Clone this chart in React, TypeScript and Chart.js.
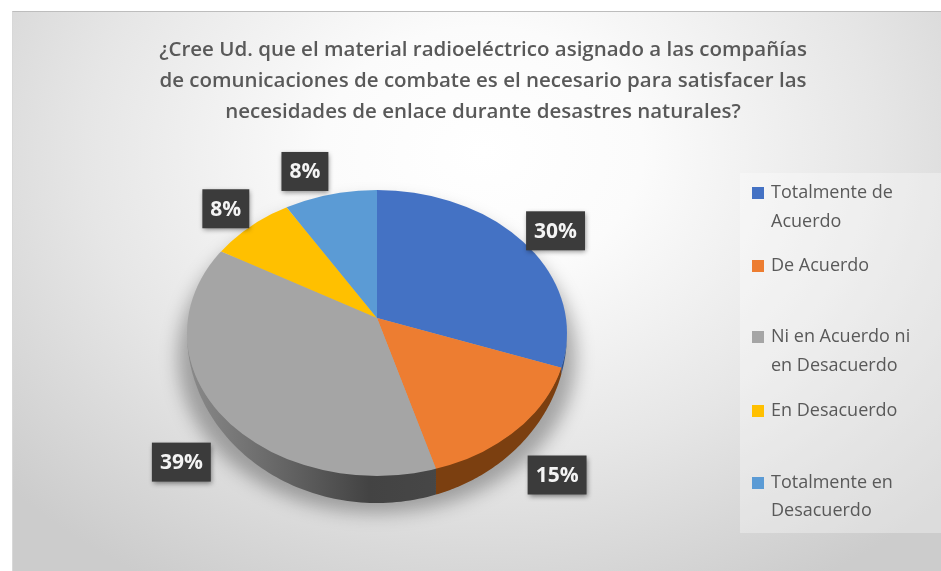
import React, { useEffect, useRef } from "react";
import { Chart, registerables } from "chart.js";

Chart.register(...registerables);

const categories = [
  "Totalmente de Acuerdo",
  "De Acuerdo",
  "Ni en Acuerdo ni en Desacuerdo",
  "En Desacuerdo",
  "Totalmente en Desacuerdo",
];
const percentages = [30, 15, 39, 8, 8];
const titleLines = [
  "¿Cree Ud. que el material radioeléctrico asignado a las compañías",
  "de comunicaciones de combate es el necesario para satisfacer las",
  "necesidades de enlace durante desastres naturales?",
];
const legendLines = [
  ["Totalmente de", "Acuerdo"],
  ["De Acuerdo"],
  ["Ni en Acuerdo ni", "en Desacuerdo"],
  ["En Desacuerdo"],
  ["Totalmente en", "Desacuerdo"],
];

const faceColors = ["#4472C4", "#ED7D31", "#A5A5A5", "#FFC000", "#5B9BD5"];
const wallColors = ["#2F528F", "#7B3F10", "#4d4d4d", "#7F6000", "#2E75B6"];
const labelOffsets = [[29, -14], [43, 43], [-42, 45], [-24, -18], [-25, -23]];
const legendRowY = [[193, 222], [266], [337, 366], [411], [483, 511]];

// Tilted-disc geometry
const RIM_CY = 333;
const RIM_RX = 190;
const RIM_RY = 143;
const SCALE_UP = 128 / 190;
const SCALE_DOWN = 158 / 190;
const DEPTH = 27;

function rimPoint(cx: number, ay: number, angle: number) {
  const dx = Math.cos(angle);
  const s = Math.sin(angle);
  const dy = s * (s > 0 ? SCALE_DOWN : SCALE_UP);
  const off = ay - RIM_CY;
  const A = (dx * dx) / (RIM_RX * RIM_RX) + (dy * dy) / (RIM_RY * RIM_RY);
  const B = (2 * dy * off) / (RIM_RY * RIM_RY);
  const C = (off * off) / (RIM_RY * RIM_RY) - 1;
  const t = (-B + Math.sqrt(B * B - 4 * A * C)) / (2 * A);
  return { x: cx + t * dx, y: ay + t * dy };
}

function rimParam(cx: number, p: { x: number; y: number }) {
  return Math.atan2((p.y - RIM_CY) / RIM_RY, (p.x - cx) / RIM_RX);
}

const pie3d = {
  id: "pie3d",
  beforeDatasetDraw(chart: any) {
    const { ctx } = chart;
    const arcs = chart.getDatasetMeta(0).data;
    const cx = arcs[0].x;
    const ay = arcs[0].y;

    // soft cast shadow
    ctx.save();
    ctx.filter = "blur(9px)";
    ctx.fillStyle = "rgba(0,0,0,0.30)";
    ctx.beginPath();
    ctx.ellipse(cx, RIM_CY + 24, RIM_RX + 9, RIM_RY + 13, 0, 0, Math.PI * 2);
    ctx.fill();
    ctx.restore();

    // side wall
    arcs.forEach((arc: any, i: number) => {
      const pa = rimParam(cx, rimPoint(cx, ay, arc.startAngle));
      const pb = rimParam(cx, rimPoint(cx, ay, arc.endAngle));
      let a = pa < -Math.PI / 2 ? pa + Math.PI * 2 : pa;
      let b = pb < -Math.PI / 2 ? pb + Math.PI * 2 : pb;
      if (b < a) b += Math.PI * 2;
      a = Math.max(a, 0);
      b = Math.min(b, Math.PI);
      if (b <= a) return;
      const top: number[][] = [];
      const bottom: number[][] = [];
      const steps = 80;
      for (let k = 0; k <= steps; k++) {
        const p = a + ((b - a) * k) / steps;
        const x = cx + RIM_RX * Math.cos(p);
        const y = RIM_CY + RIM_RY * Math.sin(p);
        top.push([x, y - 1]);
        bottom.push([x, y + DEPTH * Math.sin(p)]);
      }
      ctx.save();
      if (i === 2) {
        const g = ctx.createLinearGradient(cx - RIM_RX, 0, cx + 70, 0);
        g.addColorStop(0, "#8a8a8a");
        g.addColorStop(0.3, "#6c6c6c");
        g.addColorStop(0.7, "#434343");
        g.addColorStop(1, "#474747");
        ctx.fillStyle = g;
      } else {
        ctx.fillStyle = wallColors[i];
      }
      ctx.beginPath();
      top.forEach(([x, y], k) => (k ? ctx.lineTo(x, y) : ctx.moveTo(x, y)));
      bottom.reverse().forEach(([x, y]) => ctx.lineTo(x, y));
      ctx.closePath();
      ctx.fill();
      ctx.restore();
    });

    // top face, drawn by the arc elements: two half-planes with their own foreshortening
    const drawHalf = (y0: number, y1: number, sy: number) => {
      ctx.save();
      ctx.beginPath();
      ctx.ellipse(cx, RIM_CY, RIM_RX, RIM_RY, 0, 0, Math.PI * 2);
      ctx.clip();
      ctx.beginPath();
      ctx.rect(0, y0, chart.width, y1 - y0);
      ctx.clip();
      ctx.translate(cx, ay);
      ctx.scale(1.5, 1.5 * sy);
      ctx.translate(-cx, -ay);
      arcs.forEach((arc: any) => arc.draw(ctx));
      ctx.restore();
    };
    drawHalf(0, ay, SCALE_UP);
    drawHalf(ay, chart.height, SCALE_DOWN);
    return false;
  },
  afterDatasetsDraw(chart: any) {
    const { ctx } = chart;
    const arcs = chart.getDatasetMeta(0).data;
    const cx = arcs[0].x;
    const ay = arcs[0].y;

    // data labels
    arcs.forEach((arc: any, i: number) => {
      const mid = (arc.startAngle + arc.endAngle) / 2;
      const p = rimPoint(cx, ay, mid);
      const lx = p.x + labelOffsets[i][0];
      const ly = p.y + labelOffsets[i][1];
      const text = `${percentages[i]}%`;
      ctx.save();
      ctx.font = "bold 21px 'Open Sans'";
      const w = ctx.measureText(text).width + 16;
      ctx.shadowColor = "rgba(0,0,0,0.45)";
      ctx.shadowBlur = 5;
      ctx.shadowOffsetX = 1;
      ctx.shadowOffsetY = 2;
      ctx.fillStyle = "#3b3b3b";
      ctx.fillRect(lx - w / 2, ly - 19.5, w, 39);
      ctx.shadowColor = "transparent";
      ctx.fillStyle = "#f4f4f4";
      ctx.textAlign = "center";
      ctx.textBaseline = "middle";
      ctx.fillText(text, lx, ly + 1);
      ctx.restore();
    });

    // title
    ctx.save();
    ctx.font = "600 20.5px 'Open Sans'";
    ctx.fillStyle = "#595959";
    ctx.textAlign = "center";
    ctx.textBaseline = "middle";
    titleLines.forEach((line, i) => ctx.fillText(line, 483, 50 + i * 31));
    ctx.restore();

    // legend
    ctx.save();
    ctx.fillStyle = "rgba(255,255,255,0.32)";
    ctx.fillRect(740, 173, 201, 360);
    ctx.font = "18px 'Open Sans'";
    ctx.textBaseline = "middle";
    legendLines.forEach((lines, i) => {
      ctx.fillStyle = faceColors[i];
      ctx.fillRect(752, legendRowY[i][0] - 6, 12, 12);
      ctx.fillStyle = "#595959";
      lines.forEach((t, k) => ctx.fillText(t, 771, legendRowY[i][k]));
    });
    ctx.restore();
  },
};

export default function App() {
  const ref = useRef<HTMLCanvasElement>(null);
  useEffect(() => {
    const chart = new Chart(ref.current as HTMLCanvasElement, {
      type: "pie",
      data: {
        labels: categories,
        datasets: [{ data: percentages, backgroundColor: faceColors, borderWidth: 0 }],
      },
      options: {
        animation: false,
        responsive: false,
        layout: { padding: { left: 187, right: 374, top: 128, bottom: 63 } },
        plugins: { legend: { display: false }, tooltip: { enabled: false }, title: { display: false } },
      },
      plugins: [pie3d],
    } as any);
    return () => chart.destroy();
  }, []);
  return (
    <div style={{ position: "fixed", left: 0, top: 0, width: 941, height: 571, background: "#fff", overflow: "hidden" }}>
      <div
        style={{
          position: "absolute",
          left: 12,
          top: 11,
          right: 0,
          bottom: 0,
          borderTop: "1px solid #bdbdbd",
          borderLeft: "1px solid #d8d8d8",
          background: "radial-gradient(ellipse 640px 500px at 470px 140px, #ffffff 0%, #fbfbfb 25%, #e6e6e6 62%, #cccccc 100%)",
        }}
      />
      <canvas ref={ref} width={941} height={571} style={{ position: "absolute", left: 0, top: 0, display: "block" }} />
    </div>
  );
}
